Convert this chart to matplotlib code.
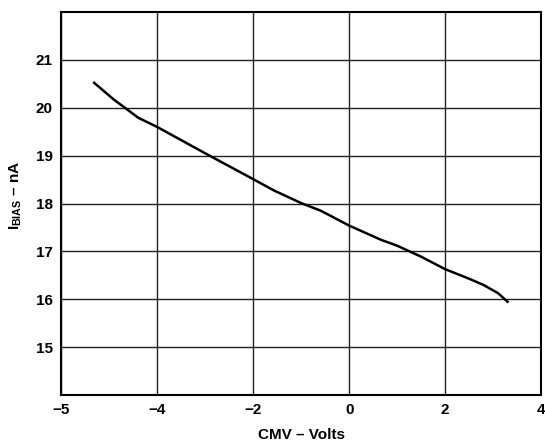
import matplotlib
matplotlib.use('Agg')
import matplotlib.pyplot as plt

plt.rcParams['font.family'] = ['Liberation Sans', 'DejaVu Sans']
plt.rcParams['font.weight'] = 'bold'
plt.rcParams['mathtext.fontset'] = 'custom'
plt.rcParams['mathtext.rm'] = 'Liberation Sans:bold'
plt.rcParams['mathtext.it'] = 'Liberation Sans:bold'
plt.rcParams['mathtext.bf'] = 'Liberation Sans:bold'

# curve
cmv = [-5.31, -4.9, -4.39, -4.0, -3.0, -2.0, -1.56, -1.0, -0.59, 0.0, 0.67, 1.0, 1.5, 2.0, 2.5, 2.8, 3.1, 3.3]
ibias = [20.52, 20.17, 19.79, 19.6, 19.05, 18.51, 18.27, 18.01, 17.85, 17.54, 17.24, 17.12, 16.89, 16.63, 16.43, 16.3, 16.13, 15.95]

xticks = [-6, -4, -2, 0, 2, 4]
xticklabels = ['\u22125', '\u22124', '\u22122', '0', '2', '4']
yticks = [15, 16, 17, 18, 19, 20, 21]

fig = plt.figure(figsize=(5.45, 4.42), dpi=100)
ax = fig.add_axes([0.112, 0.106, 0.881, 0.867])

ax.plot(cmv, ibias, color='black', linewidth=1.8)

ax.set_xlim(-6, 4)
ax.set_ylim(14, 22)
ax.set_xticks(xticks)
ax.set_xticklabels(xticklabels)
ax.set_yticks(yticks)
ax.grid(True, color='#222222', linewidth=1.0)
ax.tick_params(length=0, labelsize=11, pad=6)
for s in ax.spines.values():
    s.set_linewidth(1.5)

ax.set_xlabel('CMV \u2013 Volts', fontsize=11, fontweight='bold')
ax.xaxis.set_label_coords(0.5, -0.085)
ax.set_ylabel('$I_{BIAS}$ \u2013 nA', fontsize=11, fontweight='bold')
ax.yaxis.set_label_coords(-0.078, 0.52)

fig.savefig('out.png', dpi=100)
